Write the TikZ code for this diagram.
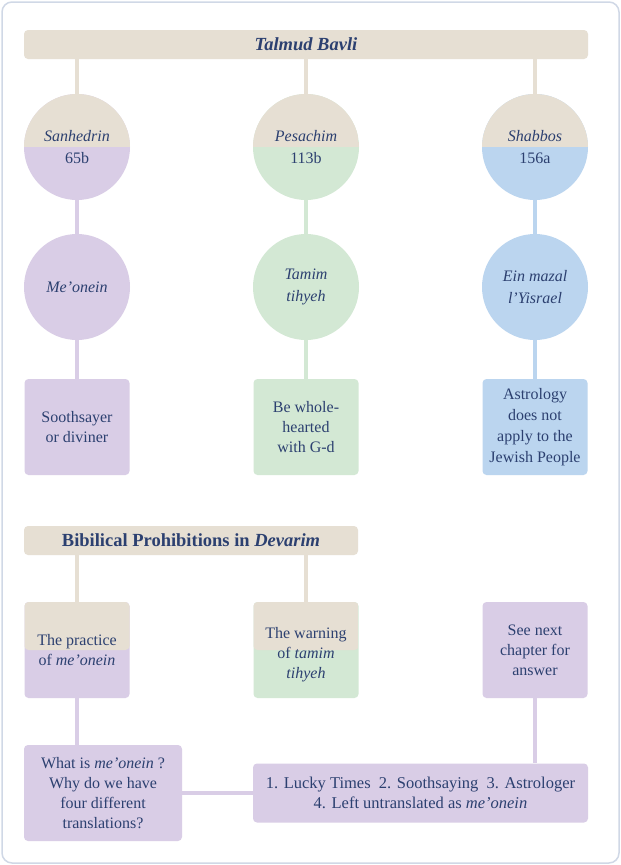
\documentclass[tikz,border=0pt]{standalone}
\usepackage{fontspec}
\setmainfont{Liberation Serif}
\definecolor{ink}{RGB}{44,64,112}
\definecolor{beige}{RGB}{230,223,211}
\definecolor{lilac}{RGB}{217,205,230}
\definecolor{mint}{RGB}{211,232,212}
\definecolor{sky}{RGB}{187,213,239}
\definecolor{frame}{RGB}{208,216,230}
\begin{document}
\begin{tikzpicture}[x=1pt,y=-1pt,
        every node/.style={text=ink, font=\fontsize{16}{20}\selectfont},
        bar/.style={fill=beige, rounded corners=4pt, minimum height=29pt,
            font=\fontsize{18.5}{20}\selectfont\bfseries},
        disc/.style={circle, fill=#1, minimum size=106pt, inner sep=0pt,
            align=center, font=\fontsize{16}{22}\selectfont},
        topdisc/.style={disc=#1, path picture={
            \fill[beige] (path picture bounding box.north west)
                rectangle (path picture bounding box.east);}},
        card/.style={rectangle, rounded corners=4pt, fill=#1,
            minimum width=105pt, minimum height=96pt, inner sep=2pt, align=center},
        topcard/.style={card=#1, path picture={
            \fill[beige] (path picture bounding box.north west)
                rectangle (path picture bounding box.east);}},
        link/.style={draw=#1, line width=3.5pt}]
        \useasboundingbox (0,0) rectangle (621,865);
        \draw[frame, fill=white, line width=1.5pt, rounded corners=10pt]
            (2,2) rectangle (619,863);

        % Talmud Bavli.
        \node[bar, minimum width=564pt] (bavli) at (306,44.5) {\itshape Talmud Bavli};

        \node[topdisc=lilac] (sanh) at (77,147)  {\textit{Sanhedrin}\\65b};
        \node[topdisc=mint]  (pes)  at (306,147) {\textit{Pesachim}\\113b};
        \node[topdisc=sky]   (shab) at (535,147) {\textit{Shabbos}\\156a};

        \node[disc=lilac] (meonein) at (77,287)  {\textit{Me’onein}};
        \node[disc=mint]  (tamim)   at (306,287) {\textit{Tamim}\\\textit{tihyeh}};
        \node[disc=sky]   (mazal)   at (535,287) {\textit{Ein mazal}\\\textit{l’Yisrael}};

        \node[card=lilac] (diviner) at (77,427)  {Soothsayer\\or diviner};
        \node[card=mint]  (whole)   at (306,427) {Be whole-\\hearted\\with G-d};
        \node[card=sky, font=\fontsize{16}{21}\selectfont] (astro) at (535,427)
            {Astrology\\does not\\apply to the\\Jewish People};

        \foreach \n in {sanh,pes,shab}
            \draw[link=beige] (\n.north |- bavli.south) -- (\n.north);
        \foreach \a/\b/\c in {sanh/meonein/lilac, meonein/diviner/lilac,
                pes/tamim/mint, tamim/whole/mint,
                shab/mazal/sky, mazal/astro/sky}
            \draw[link=\c] (\a) -- (\b);

        % Devarim.
        \node[bar, minimum width=334pt] (devarim) at (191,540.5)
            {Bibilical Prohibitions in \textit{Devarim}};

        \node[topcard=lilac] (practice) at (77,650)  {The practice\\of \textit{me’onein}};
        \node[topcard=mint]  (warning)  at (306,650) {};
        \node[align=center] (warningtext) at (306,655)
            {The warning\\of \textit{tamim}\\\textit{tihyeh}};
        \node[card=lilac]    (seenext)  at (535,650) {See next\\chapter for\\answer};

        \node[card=lilac, minimum width=158pt] (ask) at (103,793)
            {What is \textit{me’onein} ?\\Why do we have\\four different\\translations?};
        \node[card=lilac, minimum width=335pt, minimum height=59pt,
            font=\fontsize{16.5}{20}\selectfont] (answer) at (420.5,793)
            {1. Lucky Times\ \ 2. Soothsaying\ \ 3. Astrologer\\
             4. Left untranslated as \textit{me’onein}};

        \foreach \n in {practice,warning}
            \draw[link=beige] (\n.north |- devarim.south) -- (\n.north);
        \draw[link=lilac] (practice.south) -- (practice.south |- ask.north);
        \draw[link=lilac] (seenext.south) -- (seenext.south |- answer.north);
        \draw[link=lilac] (ask) -- (answer);
\end{tikzpicture}
\end{document}
